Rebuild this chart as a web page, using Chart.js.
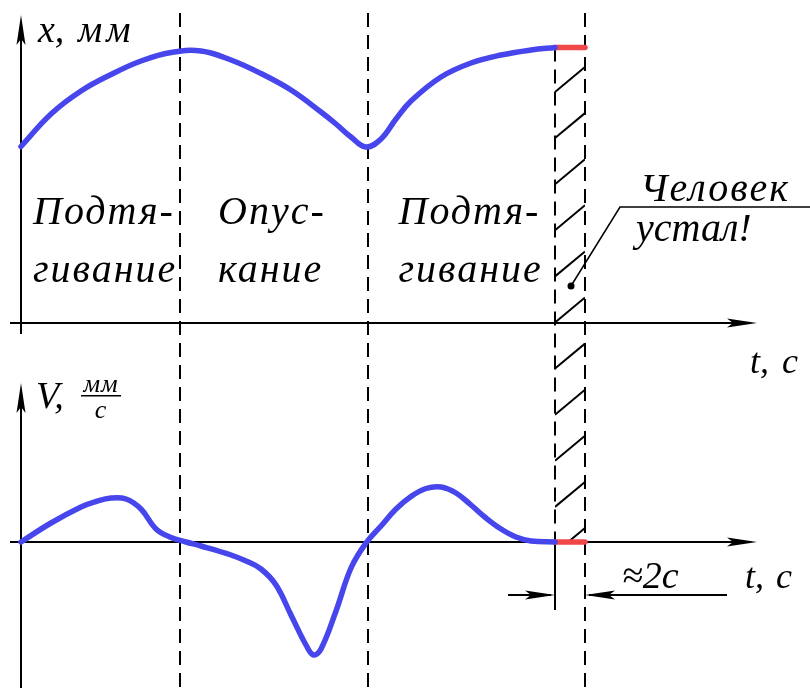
<!DOCTYPE html>
<html>
<head>
<meta charset="utf-8">
<script src="https://cdn.jsdelivr.net/npm/chart.js@4"></script>
<style>
html, body { margin: 0; padding: 0; background: #fff; }
canvas { display: block; }
</style>
</head>
<body>
<canvas id="chart" width="810" height="688"></canvas>
<script>
// координата x(t), мм
const tX = [0, 2, 4, 6, 8, 10, 12, 14, 16, 18, 20, 21, 22, 23, 24, 25, 26, 28, 30, 32, 34, 35.6];
const xMm = [35.3, 41.8, 46.4, 49.7, 52.4, 54.1, 54.4, 52.6, 49.9, 46.6, 42.2, 39.8, 37.2, 35.2, 36.8, 40.8, 44.4, 49.2, 52.0, 53.6, 54.6, 55.1];

// скорость V(t), мм/с
const tV = [0, 2, 4, 5, 6, 7, 8, 9, 10, 11, 12, 14, 15, 16, 17, 18, 19, 19.5, 20, 21, 22, 23, 24, 25, 26, 27, 28, 29, 30, 31, 32, 33, 34, 35.6];
const vMm = [0, 3.8, 7.0, 8.1, 8.8, 8.6, 6.6, 2.6, 0.9, 0, -0.8, -2.6, -3.8, -5.4, -8.6, -14.6, -20.6, -22.6, -21.4, -13.8, -5.2, -0.2, 3.2, 6.6, 9.1, 10.7, 11.0, 9.8, 7.4, 4.8, 2.6, 1.0, 0.2, 0];

// человек устал (≈2 с)
const tRest = [35.6, 37.6];
const xRest = [55.1, 55.1];
const vRest = [0, 0];

// границы фаз
const phaseT = [10.6, 23.1, 35.6, 37.6];
const phaseLabels = [['Подтя-', 'гивание'], ['Опус-', 'кание'], ['Подтя-', 'гивание']];
const noteLabels = ['Человек', 'устал!'];
const restLabel = '≈2c';

const toPoints = (ts, vs) => ts.map((t, i) => ({ x: t, y: vs[i] }));

const FONT = '"Liberation Serif", "DejaVu Serif", serif';
const BLUE = '#4646ec';
const RED = '#f04848';

function arrowHead(ctx, x, y, dx, dy, len, half) {
    // узкая стрелка с вогнутым хвостом
    const px = -dy, py = dx;
    ctx.beginPath();
    ctx.moveTo(x, y);
    ctx.lineTo(x - dx * len + px * half, y - dy * len + py * half);
    ctx.lineTo(x - dx * len * 0.8, y - dy * len * 0.8);
    ctx.lineTo(x - dx * len - px * half, y - dy * len - py * half);
    ctx.closePath();
    ctx.fill();
}

const sketchPlugin = {
    id: 'sketch',
    beforeDatasetsDraw(chart) {
        const ctx = chart.ctx;
        const sx = chart.scales.x, sy = chart.scales.yX, sv = chart.scales.yV;
        const X = t => sx.getPixelForValue(t);
        const x0 = X(0);
        const yTop0 = sy.getPixelForValue(0);
        const yBot0 = sv.getPixelForValue(0);
        const yRest = sy.getPixelForValue(xRest[0]);

        ctx.save();
        ctx.strokeStyle = '#000';
        ctx.fillStyle = '#000';

        // штриховые линии
        ctx.lineWidth = 2;
        ctx.setLineDash([14, 8]);
        [phaseT[0], phaseT[1], phaseT[3]].forEach(t => {
            ctx.beginPath();
            ctx.moveTo(Math.round(X(t)), 13);
            ctx.lineTo(Math.round(X(t)), 688);
            ctx.stroke();
        });
        ctx.beginPath();
        ctx.moveTo(Math.round(X(phaseT[2])), yRest);
        ctx.lineTo(Math.round(X(phaseT[2])), yBot0);
        ctx.stroke();
        ctx.setLineDash([]);
        ctx.beginPath();
        ctx.moveTo(Math.round(X(phaseT[2])), yBot0);
        ctx.lineTo(Math.round(X(phaseT[2])), 610);
        ctx.stroke();

        // штриховка
        const xa = Math.round(X(phaseT[2])), xb = Math.round(X(phaseT[3]));
        ctx.save();
        ctx.beginPath();
        ctx.rect(xa, yRest, xb - xa, yBot0 - yRest);
        ctx.clip();
        ctx.lineWidth = 2;
        for (let y = yRest + 44.5; y < yBot0 + 30; y += 46.1) {
            ctx.beginPath();
            ctx.moveTo(xa, y);
            ctx.lineTo(xb, y - 25);
            ctx.stroke();
        }
        ctx.restore();

        // оси
        ctx.lineWidth = 2;
        ctx.beginPath();
        ctx.moveTo(x0, 334); ctx.lineTo(x0, 30);
        ctx.moveTo(10, yTop0); ctx.lineTo(745, yTop0);
        ctx.moveTo(x0, 688); ctx.lineTo(x0, 398);
        ctx.moveTo(10, yBot0); ctx.lineTo(745, yBot0);
        ctx.stroke();
        arrowHead(ctx, x0, 15, 0, -1, 30, 4.5);
        arrowHead(ctx, 757, yTop0, 1, 0, 30, 4.5);
        arrowHead(ctx, x0, 383, 0, -1, 30, 4.5);
        arrowHead(ctx, 757, yBot0, 1, 0, 30, 4.5);

        // размер ≈2 с
        const yd = 595;
        ctx.lineWidth = 2;
        ctx.beginPath();
        ctx.moveTo(508, yd); ctx.lineTo(xa - 4, yd);
        ctx.moveTo(xb + 4, yd); ctx.lineTo(727, yd);
        ctx.stroke();
        arrowHead(ctx, xa, yd, 1, 0, 30, 4.5);
        arrowHead(ctx, xb, yd, -1, 0, 30, 4.5);

        // выноска
        ctx.lineWidth = 1.5;
        ctx.beginPath();
        ctx.moveTo(571, 286); ctx.lineTo(620, 207); ctx.lineTo(810, 207);
        ctx.stroke();
        ctx.beginPath();
        ctx.arc(571, 286, 3.5, 0, Math.PI * 2);
        ctx.fill();
        ctx.restore();
    },
    afterDraw(chart) {
        const ctx = chart.ctx;
        const sx = chart.scales.x;
        const X = t => sx.getPixelForValue(t);
        ctx.save();
        ctx.fillStyle = '#000';
        ctx.textBaseline = 'alphabetic';
        ctx.font = 'italic 40px ' + FONT;
        ctx.letterSpacing = '2px';

        // подписи фаз
        const lx = [X(0) + 12, X(phaseT[0]) + 38, X(phaseT[1]) + 31];
        phaseLabels.forEach((lines, i) => {
            ctx.fillText(lines[0], lx[i], 224);
            ctx.fillText(lines[1], lx[i], 282);
        });

        ctx.fillText(noteLabels[0], 640, 201);
        ctx.letterSpacing = '0px';
        ctx.fillText(noteLabels[1], 636, 241);

        // оси
        ctx.font = 'italic 38px ' + FONT;
        ctx.fillText('x,', 38, 42);
        ctx.letterSpacing = '4px';
        ctx.fillText('мм', 78, 42);
        ctx.letterSpacing = '0px';
        ctx.fillText('V,', 36, 408);
        ctx.font = 'italic 36px ' + FONT;
        ctx.fillText('t,', 750, 373);
        ctx.fillText('c', 782, 373);
        ctx.fillText('t,', 745, 588);
        ctx.fillText('c', 776, 588);
        ctx.font = 'italic 38px ' + FONT;
        ctx.fillText(restLabel, 622, 588);

        // мм/с дробью
        ctx.font = 'italic 26px ' + FONT;
        ctx.textAlign = 'center';
        ctx.letterSpacing = '1px';
        ctx.fillText('мм', 101, 392);
        ctx.fillText('c', 101, 418);
        ctx.fillRect(81, 395, 40, 1.5);
        ctx.restore();
    }
};

new Chart(document.getElementById('chart'), {
    type: 'line',
    data: {
        datasets: [
            { data: toPoints(tX, xMm), yAxisID: 'yX', borderColor: BLUE },
            { data: toPoints(tV, vMm), yAxisID: 'yV', borderColor: BLUE },
            { data: toPoints(tRest, xRest), yAxisID: 'yX', borderColor: RED },
            { data: toPoints(tRest, vRest), yAxisID: 'yV', borderColor: RED }
        ]
    },
    options: {
        responsive: false,
        animation: false,
        devicePixelRatio: 1,
        layout: { padding: 0 },
        elements: {
            line: { borderWidth: 5.5, tension: 0.4, borderCapStyle: 'round', borderJoinStyle: 'round' },
            point: { radius: 0 }
        },
        scales: {
            x: { type: 'linear', min: -1.4, max: 52.6, display: false },
            yX: { min: -73, max: 64.6, display: false },
            yV: { min: -29.2, max: 108.4, display: false }
        },
        plugins: {
            legend: { display: false },
            tooltip: { enabled: false }
        }
    },
    plugins: [sketchPlugin]
});
</script>
</body>
</html>
